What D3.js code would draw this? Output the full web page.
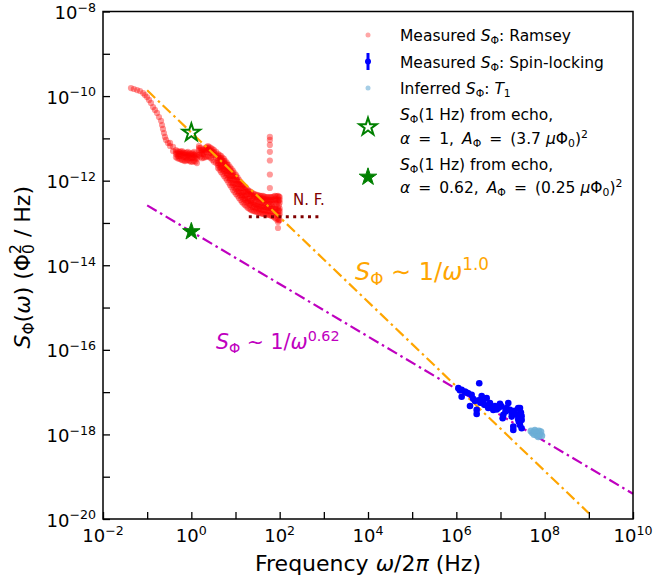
<!DOCTYPE html>
<html>
<head>
<meta charset="utf-8">
<script src="https://cdn.jsdelivr.net/npm/d3@7"></script>
<style>
  html, body { margin: 0; padding: 0; background: #fff; }
  svg { display: block; font-family: "DejaVu Sans", sans-serif; }
</style>
</head>
<body>
<svg id="chart" width="655" height="585"></svg>
<script>
// Flux-noise power spectral density, S_Φ(ω), versus frequency.

// Ramsey spectrum: [frequency (Hz), [S values (Φ0²/Hz)]]
const ramsey = [
  [0.043, [1.55e-10]], [0.050, [1.47e-10]], [0.059, [1.39e-10]], [0.069, [1.32e-10]],
  [0.081, [1.18e-10]], [0.089, [1.06e-10]], [0.099, [9.5e-11]], [0.110, [8.1e-11]],
  [0.122, [6.9e-11]], [0.136, [5.5e-11]], [0.150, [4.7e-11]], [0.167, [4.0e-11]],
  [0.185, [3.2e-11]], [0.206, [2.6e-11]], [0.217, [2.07e-11]], [0.228, [1.67e-11]],
  [0.240, [1.34e-11]], [0.253, [1.08e-11]], [0.267, [9.2e-12]], [0.296, [7.8e-12]],
  [0.329, [7.8e-12, 6.6e-12]], [0.385, [6.3e-12, 5.0e-12]],
  [0.449, [5.3e-12, 4.7e-12, 4.3e-12, 3.6e-12]],
  [0.526, [4.8e-12, 4.3e-12, 3.8e-12, 3.3e-12]],
  [0.615, [5.0e-12, 4.5e-12, 4.1e-12, 3.1e-12]],
  [0.718, [4.5e-12, 4.0e-12, 3.6e-12, 2.9e-12]],
  [0.840, [4.8e-12, 4.2e-12, 3.8e-12, 3.1e-12]],
  [0.982, [4.3e-12, 3.8e-12, 3.4e-12, 2.8e-12]],
  [1.15, [4.8e-12, 4.1e-12, 3.6e-12, 2.9e-12]],
  [1.34, [4.1e-12, 3.7e-12, 3.3e-12, 2.6e-12]],
  [1.49, [6.6e-12, 5.9e-12, 5.3e-12, 4.1e-12]],
  [1.74, [5.3e-12, 4.8e-12, 4.3e-12, 3.4e-12]],
  [2.04, [5.9e-12, 5.3e-12, 4.8e-12, 3.6e-12]],
  [2.38, [6.6e-12, 5.9e-12, 5.3e-12, 3.8e-12]],
  [2.79, [5.9e-12, 5.1e-12, 4.5e-12, 3.4e-12]],
  [3.26, [5.3e-12, 4.6e-12, 4.1e-12, 2.8e-12]],
  [4.02, [4.28e-12, 3.8e-12, 3.44e-12, 2.9e-12, 2.6e-12, 2.35e-12, 2.0e-12]],
  [4.69, [3.84e-12, 3.4e-12, 3.09e-12, 2.48e-12, 2.2e-12, 2.0e-12, 1.61e-12]],
  [5.49, [3.26e-12, 2.9e-12, 2.62e-12, 2.1e-12, 1.9e-12, 1.7e-12, 1.29e-12]],
  [6.42, [2.62e-12, 2.35e-12, 2.1e-12, 1.7e-12, 1.5e-12, 1.36e-12, 1.04e-12]],
  [7.50, [2.1e-12, 1.8e-12, 1.61e-12, 1.29e-12, 1.15e-12, 1.04e-12, 7.9e-13]],
  [8.77, [1.7e-12, 1.45e-12, 1.29e-12, 1.04e-12, 9.0e-13, 7.9e-13, 6.0e-13]],
  [10.3, [1.36e-12, 1.2e-12, 1.04e-12, 8.4e-13, 7.3e-13, 6.4e-13, 4.85e-13]],
  [12.0, [1.04e-12, 9.3e-13, 8.4e-13, 6.4e-13, 5.7e-13, 5.1e-13, 3.9e-13]],
  [14.0, [8.4e-13, 7.5e-13, 6.7e-13, 5.1e-13, 4.6e-13, 4.1e-13, 3.13e-13]],
  [16.4, [7.1e-13, 6.2e-13, 5.4e-13, 4.35e-13, 3.9e-13, 3.5e-13, 2.67e-13]],
  [19.2, [6.0e-13, 5.4e-13, 4.85e-13, 3.7e-13, 3.3e-13, 2.97e-13, 2.26e-13]],
  [22.4, [5.4e-13, 4.8e-13, 4.35e-13, 3.3e-13, 3.0e-13, 2.67e-13, 2.03e-13]],
  [26.2, [4.85e-13, 4.3e-13, 3.9e-13, 3.13e-13, 2.7e-13, 2.39e-13, 1.92e-13]],
  [30.7, [4.6e-13, 4.1e-13, 3.7e-13, 2.81e-13, 2.5e-13, 2.26e-13, 1.82e-13]],
  [35.8, [4.35e-13, 3.9e-13, 3.5e-13, 2.81e-13, 2.4e-13, 2.14e-13, 1.72e-13]],
  [41.9, [4.35e-13, 3.8e-13, 3.3e-13, 2.67e-13, 2.3e-13, 2.03e-13, 1.63e-13]],
  [49.0, [4.1e-13, 3.6e-13, 3.3e-13, 2.67e-13, 2.3e-13, 2.03e-13, 1.63e-13]],
  [57.3, [4.1e-13, 3.5e-13, 3.13e-13, 2.52e-13, 2.2e-13, 1.92e-13, 1.55e-13]],
  [60.0, [1.08e-11, 9.2e-12, 7.0e-12, 4.8e-12, 3.0e-12, 1.4e-12, 6.7e-13]],
  [67.0, [4.1e-13, 3.5e-13, 3.13e-13, 2.52e-13, 2.2e-13, 1.92e-13, 1.46e-13]],
  [78.4, [4.35e-13, 3.7e-13, 3.3e-13, 2.39e-13, 2.1e-13, 1.82e-13, 1.31e-13]],
  [91.6, [4.35e-13, 3.6e-13, 3.13e-13, 2.26e-13, 1.9e-13, 1.55e-13, 1.25e-13, 1.06e-13, 7.6e-14]],
  [100, [4.1e-13, 3.5e-13, 3.0e-13, 2.2e-13, 1.9e-13, 1.6e-13, 1.18e-13]]
];

// Ramsey spectrum, in-between frequency bins of the dense 0.5–100 Hz stretch
const ramseyDense = [
  [0.487, [5.0e-12, 4.4e-12, 3.9e-12, 3.4e-12]],
  [0.570, [4.9e-12, 4.3e-12, 3.8e-12, 3.2e-12]],
  [0.665, [4.7e-12, 4.2e-12, 3.7e-12, 3.0e-12]],
  [0.777, [4.6e-12, 4.0e-12, 3.5e-12, 3.0e-12]],
  [0.908, [4.5e-12, 4.0e-12, 3.5e-12, 2.9e-12]],
  [1.06, [4.5e-12, 4.0e-12, 3.5e-12, 2.8e-12]],
  [1.24, [4.4e-12, 3.9e-12, 3.4e-12, 2.8e-12]],
  [1.61, [6.0e-12, 5.2e-12, 4.5e-12, 3.7e-12]],
  [1.89, [5.5e-12, 4.9e-12, 4.2e-12, 3.5e-12]],
  [2.21, [6.2e-12, 5.5e-12, 4.7e-12, 3.7e-12]],
  [2.58, [6.2e-12, 5.4e-12, 4.6e-12, 3.6e-12]],
  [3.02, [5.6e-12, 4.8e-12, 4.1e-12, 3.1e-12]],
  [3.63, [4.8e-12, 4.1e-12, 3.5e-12, 2.6e-12]],
  [4.35, [4.0e-12, 3.4e-12, 2.9e-12, 2.5e-12, 2.1e-12, 1.8e-12]],
  [5.07, [3.5e-12, 3.0e-12, 2.6e-12, 2.2e-12, 1.8e-12, 1.45e-12]],
  [5.94, [2.9e-12, 2.5e-12, 2.1e-12, 1.8e-12, 1.5e-12, 1.15e-12]],
  [6.94, [2.35e-12, 2.0e-12, 1.65e-12, 1.4e-12, 1.15e-12, 9.0e-13]],
  [8.11, [1.9e-12, 1.6e-12, 1.3e-12, 1.1e-12, 8.8e-13, 7.0e-13]],
  [9.48, [1.5e-12, 1.25e-12, 1.05e-12, 8.5e-13, 6.8e-13, 5.4e-13]],
  [11.1, [1.2e-12, 1.0e-12, 8.3e-13, 6.8e-13, 5.5e-13, 4.4e-13]],
  [13.0, [9.4e-13, 8.0e-13, 6.6e-13, 5.4e-13, 4.4e-13, 3.5e-13]],
  [15.1, [7.8e-13, 6.5e-13, 5.4e-13, 4.5e-13, 3.7e-13, 2.9e-13]],
  [17.7, [6.5e-13, 5.5e-13, 4.6e-13, 3.8e-13, 3.1e-13, 2.45e-13]],
  [20.8, [5.7e-13, 4.8e-13, 4.0e-13, 3.3e-13, 2.7e-13, 2.15e-13]],
  [24.2, [5.1e-13, 4.3e-13, 3.6e-13, 2.9e-13, 2.4e-13, 1.95e-13]],
  [28.3, [4.7e-13, 4.0e-13, 3.3e-13, 2.7e-13, 2.2e-13, 1.85e-13]],
  [33.2, [4.5e-13, 3.8e-13, 3.1e-13, 2.55e-13, 2.1e-13, 1.75e-13]],
  [38.7, [4.4e-13, 3.7e-13, 3.0e-13, 2.45e-13, 2.0e-13, 1.68e-13]],
  [45.3, [4.2e-13, 3.6e-13, 2.9e-13, 2.4e-13, 1.95e-13, 1.63e-13]],
  [53.0, [4.1e-13, 3.5e-13, 2.85e-13, 2.3e-13, 1.9e-13, 1.58e-13]],
  [62.0, [4.1e-13, 3.4e-13, 2.8e-13, 2.25e-13, 1.85e-13, 1.5e-13]],
  [72.4, [4.2e-13, 3.5e-13, 2.8e-13, 2.2e-13, 1.75e-13, 1.4e-13]],
  [84.7, [4.3e-13, 3.5e-13, 2.7e-13, 2.1e-13, 1.6e-13, 1.2e-13]],
  [96.0, [4.2e-13, 3.4e-13, 2.6e-13, 2.0e-13, 1.5e-13, 1.15e-13]]
];

// Spin-locking spectrum: [frequency (Hz), S (Φ0²/Hz)]
const spinLocking = [
  [3.30e6, 1.62e-17], [1.11e6, 1.24e-17], [1.32e6, 1.13e-17], [1.57e6, 1.03e-17],
  [1.32e6, 7.8e-18], [2.22e6, 8.6e-18], [1.86e6, 9.4e-18], [2.64e6, 6.2e-18],
  [2.04e6, 4.7e-18], [2.89e6, 3.8e-18], [2.89e6, 3.05e-18], [3.75e6, 8.1e-18],
  [4.86e6, 7.2e-18], [4.07e6, 6.0e-18], [5.78e6, 5.5e-18], [5.28e6, 4.2e-18],
  [6.86e6, 3.8e-18], [7.50e6, 4.7e-18], [9.73e6, 5.3e-18], [8.91e6, 4.2e-18],
  [1.16e7, 2.9e-18], [1.12e7, 2.42e-18], [1.50e7, 5.5e-18], [1.38e7, 4.2e-18],
  [1.64e7, 3.8e-18], [1.79e7, 3.2e-18], [2.52e7, 4.2e-18], [2.76e7, 4.2e-18],
  [1.79e7, 2.64e-18], [2.32e7, 2.9e-18], [2.52e7, 2.29e-18], [3.01e7, 2.2e-18],
  [1.95e7, 1.53e-18], [1.95e7, 1.28e-18], [2.76e7, 1.68e-18], [3.01e7, 1.40e-18],
  [1.2e6, 1.1e-17], [1.7e6, 9.8e-18], [2.4e6, 7.0e-18], [3.2e6, 6.4e-18],
  [3.5e6, 5.6e-18], [4.3e6, 5.0e-18], [6.2e6, 4.4e-18], [8.2e6, 3.9e-18],
  [1.05e7, 4.6e-18], [1.3e7, 3.5e-18], [2.1e7, 3.6e-18], [2.9e7, 3.3e-18],
  [2.6e7, 2.0e-18], [3.0e7, 2.7e-18]
];

// T1-inferred spectrum: [frequency (Hz), S (Φ0²/Hz)]
const t1Inferred = [
  [4.9e7, 1.2e-18], [5.3e7, 1.1e-18], [5.8e7, 1.0e-18], [6.2e7, 1.15e-18],
  [6.6e7, 9.5e-19], [7.0e7, 1.05e-18], [7.4e7, 1.2e-18], [7.8e7, 1.0e-18],
  [8.2e7, 1.15e-18], [8.6e7, 9.3e-19], [6.0e7, 1.25e-18], [7.2e7, 8.8e-19]
];

// 1/f^α models: amplitude A at 1 Hz, exponent α, frequency span
const fitOne = { A: 3.7e-6 ** 2, alpha: 1.0, fMin: 0.1, fMax: 1e9 };
const fitFrac = { A: 0.25e-6 ** 2, alpha: 0.62, fMin: 0.1, fMax: 1e10 };

// Noise floor
const noiseFloor = { level: 1.4e-13, fMin: 20, fMax: 850 };

// Axis ticks
const xTicks = d3.range(-2, 11).map(e => Math.pow(10, e));
const yTicks = d3.range(-20, -7).map(e => Math.pow(10, e));
const xLabelExps = [-2, 0, 2, 4, 6, 8, 10];
const yLabelExps = [-20, -18, -16, -14, -12, -10, -8];

const svg = d3.select("#chart");
const pL = 103, pR = 633, pT = 11.5, pB = 519;

const x = d3.scaleLog().domain([1e-2, 1e10]).range([pL, pR]);
const y = d3.scaleLog().domain([1e-20, 1e-8]).range([pB, pT]);

const TH = "\u2009"; // thin space used around math relations

// Rich text helper: segments with italic / subscript / superscript
function rich(textSel, parts, size) {
  let cur = 0;
  parts.forEach(p => {
    const target = p.sub ? size * 0.2 : p.sup ? -size * 0.4 : 0;
    const ts = textSel.append("tspan").text(p.t);
    if (target !== cur) ts.attr("dy", target - cur);
    if (p.dx) ts.attr("dx", p.dx);
    cur = target;
    if (p.sub || p.sup) ts.attr("font-size", size * 0.7);
    if (p.i) ts.attr("font-style", "italic");
  });
  return textSel;
}

const plot = svg.append("g");

// Ramsey points
const ramseyPts = ramsey.concat(ramseyDense).flatMap(([f, vals]) => vals.map(v => [f, v]));
plot.append("g").selectAll("circle").data(ramseyPts).join("circle")
  .attr("cx", d => x(d[0])).attr("cy", d => y(d[1]))
  .attr("r", 3.1).attr("fill", "#ff0000").attr("fill-opacity", 0.4);

// Model lines
function modelLine(m) {
  return [[m.fMin, m.A * Math.pow(m.fMin, -m.alpha)], [m.fMax, m.A * Math.pow(m.fMax, -m.alpha)]];
}
const line = d3.line().x(d => x(d[0])).y(d => y(d[1]));
plot.append("path").attr("d", line(modelLine(fitOne)))
  .attr("stroke", "#ffa500").attr("stroke-width", 2.2).attr("fill", "none")
  .attr("stroke-dasharray", "11,4,2.5,4");
plot.append("path").attr("d", line(modelLine(fitFrac)))
  .attr("stroke", "#bf00bf").attr("stroke-width", 2.2).attr("fill", "none")
  .attr("stroke-dasharray", "11,4,2.5,4");

// Noise floor
plot.append("path")
  .attr("d", line([[noiseFloor.fMin, noiseFloor.level], [noiseFloor.fMax, noiseFloor.level]]))
  .attr("stroke", "#800000").attr("stroke-width", 3).attr("fill", "none")
  .attr("stroke-dasharray", "3,4.4");

// Spin-locking points
plot.append("g").selectAll("circle").data(spinLocking).join("circle")
  .attr("cx", d => x(d[0])).attr("cy", d => y(d[1]))
  .attr("r", 3.3).attr("fill", "#0000ff");

// T1 points
plot.append("g").selectAll("circle").data(t1Inferred).join("circle")
  .attr("cx", d => x(d[0])).attr("cy", d => y(d[1]))
  .attr("r", 3.5).attr("fill", "#6baed6").attr("fill-opacity", 0.85);

// Echo stars at 1 Hz
const star = d3.symbol().type(d3.symbolStar).size(95);
plot.append("path").attr("d", star())
  .attr("transform", `translate(${x(1)},${y(fitOne.A)})`)
  .attr("fill", "none").attr("stroke", "#008000").attr("stroke-width", 2);
plot.append("path").attr("d", star())
  .attr("transform", `translate(${x(1)},${y(fitFrac.A)})`)
  .attr("fill", "#008000").attr("stroke", "#008000").attr("stroke-width", 1);

// Annotations
svg.append("text").attr("x", 293).attr("y", 205).attr("font-size", 15)
  .attr("fill", "#800000").text("N. F.");
rich(svg.append("text").attr("x", 355).attr("y", 280).attr("font-size", 24).attr("fill", "#ffa500"),
  [{ t: "S", i: true }, { t: "Φ", sub: true }, { t: " ∼ 1/" }, { t: "ω", i: true }, { t: "1.0", sup: true }], 24);
rich(svg.append("text").attr("x", 216).attr("y", 349).attr("font-size", 20.5).attr("fill", "#bf00bf"),
  [{ t: "S", i: true }, { t: "Φ", sub: true }, { t: " ∼ 1/" }, { t: "ω", i: true }, { t: "0.62", sup: true }], 20.5);

// Frame and ticks
const axes = svg.append("g");
axes.append("g").attr("transform", `translate(0,${pB})`)
  .call(d3.axisBottom(x).tickValues(xTicks).tickSize(-7).tickFormat(""))
  .call(g => g.select(".domain").remove())
  .call(g => g.selectAll("line").attr("stroke", "#000").attr("stroke-width", 1.3));
axes.append("g").attr("transform", `translate(${pL},0)`)
  .call(d3.axisLeft(y).tickValues(yTicks).tickSize(-7).tickFormat(""))
  .call(g => g.select(".domain").remove())
  .call(g => g.selectAll("line").attr("stroke", "#000").attr("stroke-width", 1.3));
axes.append("rect").attr("x", pL).attr("y", pT)
  .attr("width", pR - pL).attr("height", pB - pT)
  .attr("fill", "none").attr("stroke", "#000").attr("stroke-width", 1.5);

// Tick labels
const TS = 18;
xLabelExps.forEach(e => {
  rich(axes.append("text").attr("x", x(Math.pow(10, e))).attr("y", pB + 23)
    .attr("font-size", TS).attr("text-anchor", "middle").attr("fill", "#000"),
    [{ t: "10" }, { t: e < 0 ? "−" + (-e) : String(e), sup: true }], TS);
});
yLabelExps.forEach(e => {
  rich(axes.append("text").attr("x", pL - 7).attr("y", y(Math.pow(10, e)) + 7.5)
    .attr("font-size", TS).attr("text-anchor", "end").attr("fill", "#000"),
    [{ t: "10" }, { t: "−" + (-e), sup: true }], TS);
});

// Axis titles
rich(svg.append("text").attr("x", (pL + pR) / 2).attr("y", 571)
  .attr("font-size", 22).attr("text-anchor", "middle"),
  [{ t: "Frequency " }, { t: "ω", i: true }, { t: "/2" }, { t: "π", i: true }, { t: " (Hz)" }], 22);
rich(svg.append("text").attr("transform", `translate(30,${(pT + pB) / 2 + 2}) rotate(-90)`)
  .attr("font-size", 22).attr("text-anchor", "middle"),
  [{ t: "S", i: true }, { t: "Φ", sub: true }, { t: "(" }, { t: "ω", i: true }, { t: ") (Φ" },
   { t: "2", sup: true }, { t: "0", sub: true, dx: -9.8 }, { t: " / Hz)" }], 22);

// Legend
const LS = 15.5, lx = 368, tx = 400;
const legend = svg.append("g");
legend.append("circle").attr("cx", lx).attr("cy", 35).attr("r", 2.5)
  .attr("fill", "#ff0000").attr("fill-opacity", 0.35);
rich(legend.append("text").attr("x", tx).attr("y", 40.5).attr("font-size", LS),
  [{ t: "Measured " }, { t: "S", i: true }, { t: "Φ", sub: true }, { t: ": Ramsey" }], LS);
legend.append("line").attr("x1", lx).attr("x2", lx).attr("y1", 53).attr("y2", 70)
  .attr("stroke", "#0000ff").attr("stroke-width", 3);
legend.append("circle").attr("cx", lx).attr("cy", 61.5).attr("r", 3).attr("fill", "#0000ff");
rich(legend.append("text").attr("x", tx).attr("y", 67.5).attr("font-size", LS),
  [{ t: "Measured " }, { t: "S", i: true }, { t: "Φ", sub: true }, { t: ": Spin-locking" }], LS);
legend.append("circle").attr("cx", lx).attr("cy", 88).attr("r", 2.5)
  .attr("fill", "#6baed6").attr("fill-opacity", 0.6);
rich(legend.append("text").attr("x", tx).attr("y", 93.5).attr("font-size", LS),
  [{ t: "Inferred " }, { t: "S", i: true }, { t: "Φ", sub: true }, { t: ": " }, { t: "T", i: true }, { t: "1", sub: true }], LS);
legend.append("path").attr("d", star()).attr("transform", `translate(${lx},127)`)
  .attr("fill", "none").attr("stroke", "#008000").attr("stroke-width", 2);
rich(legend.append("text").attr("x", tx).attr("y", 119.5).attr("font-size", LS),
  [{ t: "S", i: true }, { t: "Φ", sub: true }, { t: "(1 Hz) from echo," }], LS);
rich(legend.append("text").attr("x", tx).attr("y", 144).attr("font-size", LS),
  [{ t: "α", i: true }, { t: TH + " = " + TH + "1," + TH + " " }, { t: "A", i: true }, { t: "Φ", sub: true },
   { t: TH + " = " + TH + "(3.7 " }, { t: "μ", i: true }, { t: "Φ" }, { t: "0", sub: true }, { t: ")" }, { t: "2", sup: true }], LS);
legend.append("path").attr("d", star()).attr("transform", `translate(${lx},177)`)
  .attr("fill", "#008000").attr("stroke", "#008000").attr("stroke-width", 1);
rich(legend.append("text").attr("x", tx).attr("y", 169.5).attr("font-size", LS),
  [{ t: "S", i: true }, { t: "Φ", sub: true }, { t: "(1 Hz) from echo," }], LS);
rich(legend.append("text").attr("x", tx).attr("y", 193).attr("font-size", LS),
  [{ t: "α", i: true }, { t: TH + " = " + TH + "0.62," + TH + " " }, { t: "A", i: true }, { t: "Φ", sub: true },
   { t: TH + " = " + TH + "(0.25 " }, { t: "μ", i: true }, { t: "Φ" }, { t: "0", sub: true }, { t: ")" }, { t: "2", sup: true }], LS);
</script>
</body>
</html>
